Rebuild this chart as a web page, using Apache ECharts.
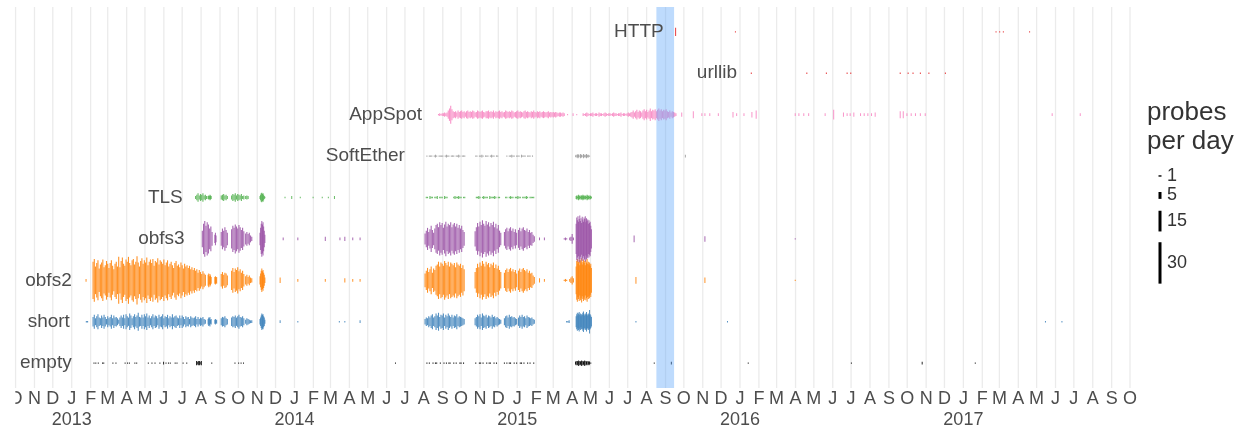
<!DOCTYPE html>
<html><head><meta charset="utf-8">
<script src="https://cdn.jsdelivr.net/npm/echarts@6/dist/echarts.min.js"></script>
<style>html,body{margin:0;padding:0;background:#fff}#c{width:1243px;height:432px}</style>
</head><body><div id="c"></div>
<script>
// ---------------- data ----------------
const categories = ['empty','short','obfs2','obfs3','TLS','SoftEther','AppSpot','urllib','HTTP'];
const labelDates = ['2013-01-01','2012-12-29','2013-01-01','2013-07-05','2013-07-02','2014-07-01','2014-07-29','2015-12-27','2015-08-29'];
const monthLetters = ['J','F','M','A','M','J','J','A','S','O','N','D'];
const yearLabels = ['2013','2014','2015','2016','2017'];
const axisMonths = ['2012-10','2017-10'];
const legendCounts = [1,5,15,30];
const highlightRange = ['2015-08-17','2015-09-15'];

// runs: [start date, step in days, daily probe counts]
const emptyRuns = [
['2013-02-06',1,'1'],['2013-02-09',1,'1'],['2013-02-13',1,'1'],['2013-02-20',1,'1'],['2013-02-22',1,'1'],
['2013-03-09',1,'1'],['2013-03-14',1,'1'],['2013-03-29',1,'1'],['2013-04-02',1,'1'],['2013-04-05',1,'1'],
['2013-04-14',1,'1'],['2013-04-17',1,'1'],['2013-05-06',1,'1'],['2013-05-12',1,'1'],['2013-05-17',1,'1'],
['2013-05-25',1,'1'],['2013-05-31',1,'2'],['2013-06-04',1,'1'],['2013-06-08',1,'1'],['2013-06-11',1,'1'],
['2013-06-19',1,'1'],['2013-06-22',1,'1'],['2013-07-02',1,'1'],['2013-07-08',1,'1'],
['2013-07-24',1,'3 0 2 3 0 3 2 0 3'],['2013-08-18',1,'1'],['2013-09-25',1,'1'],['2013-10-01',1,'1'],
['2013-10-05',1,'1'],['2013-10-09',1,'1'],['2014-06-15',1,'1'],
['2014-08-05',2,'1 0 1 0 0 1 0 1 1 0 0 1 0 0 1 0 1 0 1 1 0 0 1 0 1 0 0 1 1 0 1 0'],
['2014-10-24',2,'1 0 0 1 1 0 1 0 0 1 0 1 1 0 0 1 0 1 0'],
['2014-12-10',2,'1 0 1 0 1 1 0 0 1 0 1 0 0 1 1 0 1 0 0 1 0 1 0 0 1 0'],
['2015-04-06',1,'2 3 0 3 2 4 0 3 2 3 4 0 3 2 3 4 0 3 2 3 0 2 3 2 0 1'],
['2015-08-13',1,'1'],['2015-09-10',1,'2'],['2016-01-14',1,'1'],['2016-07-01',1,'1'],['2016-10-25',1,'2'],['2017-01-20',1,'1']
];
const shortRuns = [
['2013-01-24',2,'1 1'],
['2013-02-04',2,'7 10 5 8 11 6 5 9 6 10 7 4 8 5 7 10 5 9 6 7 5 3 6 9 6 10 5 11 8 6 12 9 5 8 11 7 9 13 7 6 10 6 11 8 12 6 9 5 8 11 6 9 8 5 10 7 8 11 5 8 7 10 5 8 6 11 6 8 9 6 5 9 5 9 7 4 8 6 7 4 8 6 5 6 8 4 7 4 6 5 7 4 3'],
['2013-08-12',1,'4 6 5 7 3 4'],['2013-08-23',1,'3 4 2 3'],
['2013-09-02',2,'5 7 6 8 5 4'],['2013-09-19',2,'6 8 7 9 6 8 10 7 6 8 5'],
['2013-10-12',2,'3 5 4 3 2 2'],['2013-11-05',1,'4 6 9 12 10 11 8 6 3'],
['2013-12-08',1,'2'],['2014-01-06',1,'1'],['2014-03-15',1,'1'],['2014-03-24',1,'1'],['2014-04-18',1,'2'],
['2014-08-02',2,'4 6 5 8 6 9 11 6 8 12 9 13 7 10 9 12 6 10 8 12 9 7 10 6 9 8 11 6 8 7 6 5 4'],
['2014-10-23',2,'5 7 10 8 11 6 12 9 8 10 6 9 8 6 10 7 8 5 7 5 4 3'],
['2014-12-10',2,'5 8 9 6 10 7 8 6 7 5 4'],
['2015-01-02',2,'6 9 7 10 7 8 5 9 7 6 5 6 4 3'],
['2015-03-22',2,'1 1 2'],
['2015-04-07',1,'8 11 13 9 12 14 10 12 8 11 10 13 15 11 9 12 10 14 11 9 12 10 17 11 9 7'],
['2015-07-14',1,'1'],['2015-12-11',1,'1'],['2017-05-15',1,'1'],['2017-06-11',1,'1']
];
const obfs2Runs = [
['2013-01-24',1,'2'],
['2013-02-04',2,'27 31 20 25 29 17 23 26 30 19 22 28 24 18 25 29 21 16 24 27 20 34 19 28 33 24 21 30 27 34 25 22 29 31 23 27 35 26 20 28 32 24 29 26 33 22 27 30 25 31 21 28 26 32 23 29 27 24 30 22 26 29 20 24 27 22 18 25 28 21 23 19 26 22 17 24 20 22 18 21 16 19 15 18 14 16 11 15 12 9 13 10 8'],
['2013-08-12',1,'8 10 6 9 7 5'],['2013-08-23',1,'5 6 4 5'],
['2013-09-02',2,'9 12 8 11 10 7'],['2013-09-19',2,'14 18 12 17 15 19 13 16 11 14 9'],
['2013-10-12',2,'6 8 5 7 4 3'],['2013-11-05',1,'6 10 14 17 13 15 11 8 4'],
['2013-12-08',1,'4'],['2014-01-06',1,'2'],['2014-02-20',1,'2'],['2014-03-24',1,'3'],['2014-04-06',1,'2'],['2014-04-18',1,'2'],
['2014-08-02',2,'10 14 18 12 16 20 11 17 15 21 23 27 20 26 24 21 28 25 22 27 20 26 24 22 25 19 26 23 21 24 18 22 16'],
['2014-10-23',2,'12 18 24 19 26 21 28 24 20 27 23 25 19 24 22 26 18 23 17 21 15 12'],
['2014-12-10',2,'11 15 17 12 16 18 13 16 12 15 10'],
['2015-01-02',2,'14 17 12 16 18 15 13 16 11 14 10 11 7 5'],
['2015-02-06',1,'3'],['2015-02-14',1,'2'],['2015-03-18',2,'1 2 1'],['2015-03-27',2,'2 4 6 3'],
['2015-04-07',1,'20 28 31 24 27 30 22 29 26 32 23 27 30 25 28 22 29 26 31 24 27 23 26 21 24 18'],
['2015-07-14',1,'5'],['2015-11-04',1,'4'],['2016-03-31',1,'1']
];
const obfs3Runs = [
['2013-08-02',2,'12 22 26 19 24 21 15 18 10'],['2013-08-23',1,'6 9 5'],
['2013-09-02',2,'10 15 12 17 13 9'],['2013-09-19',2,'14 19 16 21 18 15 20 17 13 16 11'],
['2013-10-12',2,'8 10 7 9 5 3'],['2013-11-05',1,'9 16 22 26 21 24 18 12 6'],
['2013-12-13',1,'2'],['2014-01-06',1,'2'],['2014-02-20',1,'3'],['2014-03-16',1,'2'],['2014-03-24',1,'3'],['2014-04-06',1,'2'],['2014-04-18',1,'2'],
['2014-08-02',2,'8 12 16 10 14 19 13 9 15 20 22 17 24 20 23 16 21 25 18 22 20 24 17 21 23 18 22 16 20 15 19 13 10'],
['2014-10-23',2,'11 17 23 18 25 20 27 22 19 26 21 24 18 23 20 25 17 22 15 20 12 9'],
['2014-12-10',2,'10 14 16 11 15 17 12 15 10 14 9'],
['2015-01-02',2,'13 16 11 15 17 13 12 15 10 13 9 10 6 4'],
['2015-02-06',1,'2'],['2015-02-14',1,'2'],['2015-03-18',2,'1 2 1'],['2015-03-27',2,'2 3 7 2'],
['2015-04-07',1,'22 31 27 33 25 29 34 26 30 23 32 28 25 31 29 33 24 30 26 28 22 27 23 25 19 14'],
['2015-07-11',1,'5'],['2015-11-04',1,'4'],['2016-03-31',1,'1']
];
const tlsRuns = [
['2013-07-22',2,'2 4 6 3 5 4 6 3 4 2'],['2013-08-12',1,'2 3 2 4 3 2'],
['2013-09-02',2,'3 4 5 3 4 2'],['2013-09-19',2,'3 5 4 6 3 5 4 3 5 2 3'],
['2013-10-12',2,'2 3 2'],['2013-11-05',1,'2 4 6 7 5 6 4 2 1'],
['2013-12-16',1,'1'],['2013-12-27',1,'2'],['2014-01-10',1,'1'],['2014-01-31',1,'1'],['2014-02-15',1,'1'],['2014-02-25',1,'1'],['2014-03-07',1,'2'],
['2014-08-04',2,'1 1 0 2 1 1 0 1 1 2 0 1 1 1 0 2 1 1'],
['2014-09-18',2,'1 2 1 1 2 1 1 0 1 1'],
['2014-10-25',2,'1 1 2 1 0 1 2 1 1 1 0 2 1 1 1 2 1 0 1 1'],
['2014-12-12',2,'1 1 0 1 2 1 1 0 1 1 2 1 1 0 1 1 1 2 1 0 1 1 1 1'],
['2015-04-07',1,'2 3 1 3 4 2 3 1 3 3 2 4 3 1 3 2 3 1 4 3 2 3 1 3 2 1']
];
const softEtherRuns = [
['2014-08-05',2,'1 0 1 1 1 0 1 2 1 0 1 1 1 1 0 1 2 1 1 0 1 1 1 0 1 1 2 1 0 1 1 1'],
['2014-10-24',2,'1 1 0 1 1 2 1 0 1 1 1 0 1 2 1 1 0 1 1'],
['2014-12-14',2,'1 0 1 1 2 1 1 0 1 1 1 0 2 1 1 1 0 1 1 1 0 1'],
['2015-04-06',1,'1 2 0 2 3 2 1 0 3 2 2 1 0 3 2 1 2 0 3 2 1 2 0 1'],
['2015-10-03',1,'2']
];
const appSpotRuns = [
['2014-08-24',2,'1 2 1 2 2 3 2 3 6 9 13 8 5 4 5 3 6 4 5 6 4 5 3 5 6 4 5 4 6 5 3 4 6 5 4 5 6 4 3 5 5 6 4 5 4 6 3 5 4 5 6 4 5 3 4 6 5 4 5 4 6 5 3 4 5 6 4 5 4 3 5 6 4 5 4 3 5 4 6 4 3 5 4 5 3 4 5 4 3 4 5 3 4 3 4 3 4 3 2 3 3 2 3 2'],
['2015-03-24',1,'1'],['2015-04-02',1,'2'],['2015-04-08',1,'1'],
['2015-04-18',2,'2 1 2 3 2 1 2 2 3 1 2 2 1 3 2 2 1 2 3 2 1 2 2 1 2 3 2 2 1 2 2 3 1 2 2 1 2 3 2 3'],
['2015-07-07',2,'4 6 3 5 7 4 6 5 3 6 8 5 7 4 6 9 5 7 6 8 5 7 9 6 8 5 7 6 8 5 4 6 3 5 4 3 2'],
['2015-09-27',1,'3'],['2015-10-16',1,'5'],['2015-10-30',1,'2'],['2015-11-04',1,'2'],['2015-11-12',1,'2'],
['2015-11-26',1,'2'],['2015-12-20',1,'4'],['2015-12-26',1,'2'],['2016-01-07',1,'2'],['2016-01-20',1,'4'],
['2016-01-27',1,'6'],['2016-03-31',1,'2'],['2016-04-06',1,'2'],['2016-04-14',1,'2'],['2016-04-22',1,'2'],
['2016-05-19',1,'2'],['2016-06-02',1,'7'],['2016-06-18',1,'3'],['2016-06-24',1,'2'],['2016-06-29',1,'2'],
['2016-07-05',1,'3'],['2016-07-16',1,'2'],['2016-07-22',1,'2'],['2016-07-28',1,'2'],['2016-08-03',1,'2'],
['2016-08-09',1,'3'],['2016-09-19',1,'5'],['2016-09-24',1,'5'],['2016-09-30',1,'2'],['2016-10-07',1,'2'],
['2016-10-14',1,'2'],['2016-10-22',1,'2'],['2016-10-30',1,'2'],['2017-05-26',1,'2'],['2017-07-11',1,'2']
];
const urllibRuns = [
['2016-01-19',1,'1'],['2016-04-19',1,'1'],['2016-05-21',1,'1'],['2016-06-24',1,'1'],['2016-06-30',1,'1'],
['2016-09-19',1,'1'],['2016-10-02',1,'1'],['2016-10-10',1,'1'],['2016-10-22',1,'1'],['2016-11-05',1,'1'],['2016-12-02',1,'1']
];
const httpRuns = [
['2015-09-17',1,'6'],['2015-12-24',1,'1'],['2017-02-23',1,'1'],['2017-03-01',1,'1'],['2017-03-07',1,'1'],['2017-04-19',1,'1']
];
const allRuns = [emptyRuns, shortRuns, obfs2Runs, obfs3Runs, tlsRuns, softEtherRuns, appSpotRuns, urllibRuns, httpRuns];

// ---------------- style ----------------
const colors = ['#000000','#377eb8','#ff7f00','#984ea3','#4daf4a','#999999','#f781bf','#e41a1c','#e41a1c'];
const opacities = [0.85,0.85,0.85,0.85,0.85,0.85,0.85,0.85,0.85];
const FONT = '"Liberation Sans", Arial, Helvetica, sans-serif';
const TXT = '#4d4d4d';
const DAY = 86400000;
const Y_MIN = -0.6, Y_MAX = 8.6;
const PROBES_PER_ROW = 30;
const legendRowPos = [4.52, 4.05, 3.43, 2.42];

const toT = s => { const p = s.split('-').map(Number); return Date.UTC(p[0], p[1]-1, p[2] || 1); };
function expand(runs, row) {
  const out = [];
  runs.forEach(([s, step, vals]) => {
    vals.trim().split(/\s+/).forEach((v, i) => {
      const c = +v;
      if (c > 0) out.push([toT(s) + i*step*DAY, row, c, step]);
    });
  });
  return out;
}
const monthTicks = [];
{
  const a = axisMonths[0].split('-').map(Number), b = axisMonths[1].split('-').map(Number);
  let y = a[0], m = a[1]-1;
  while (y < b[0] || (y === b[0] && m <= b[1]-1)) {
    monthTicks.push([Date.UTC(y, m, 1), m, y]);
    m++; if (m > 11) { m = 0; y++; }
  }
}
const X_MIN = toT('2012-09-05') + DAY*0.5;
const X_MAX = toT('2017-10-17') + DAY*0.4;

const chart = echarts.init(document.getElementById('c'), null, {renderer: 'canvas'});

function barItem(color, alpha) {
  return function (params, api) {
    const x = api.value(0), row = api.value(1), c = api.value(2), step = api.value(3);
    const xc = x + step*DAY/2;
    const h = c / PROBES_PER_ROW / 2;
    const top = api.coord([xc, row + h]);
    const bot = api.coord([xc, row - h]);
    const w = Math.max(1, api.size([step*DAY, 0])[0] * 0.9);
    return {type: 'rect', shape: {x: top[0]-w/2, y: top[1], width: w, height: Math.max(1, bot[1]-top[1])},
            style: {fill: color, opacity: alpha}};
  };
}
function gridItem(params, api) {
  const t = api.value(0), m = api.value(1), yr = api.value(2);
  const top = api.coord([t, Y_MAX]), bot = api.coord([t, Y_MIN]);
  const ch = [
    {type: 'line', shape: {x1: top[0], y1: top[1], x2: bot[0], y2: bot[1]}, style: {stroke: '#ebebeb', lineWidth: 1.3}},
    {type: 'text', style: {text: monthLetters[m], x: bot[0], y: bot[1]+11.5, align: 'center', verticalAlign: 'middle', font: '18px ' + FONT, fill: TXT}}
  ];
  if (m === 0) ch.push({type: 'text', style: {text: yearLabels[yr-2013], x: bot[0], y: bot[1]+32.5, align: 'center', verticalAlign: 'middle', font: '18px ' + FONT, fill: TXT}});
  if (params.dataIndex === 0) {
    const left = api.coord([X_MIN, Y_MIN]);
    ch.push({type: 'rect', shape: {x: left[0]-5, y: bot[1]+2, width: bot[0]-left[0]+5-0.2, height: 20}, style: {fill: '#fff'}});
  }
  return {type: 'group', children: ch};
}
function bandItem(params, api) {
  const a = api.coord([api.value(0), Y_MAX]), b = api.coord([api.value(1), Y_MIN]);
  return {type: 'rect', shape: {x: a[0], y: a[1], width: b[0]-a[0], height: b[1]-a[1]}, style: {fill: 'rgba(100,170,250,0.42)'}};
}
function labelItem(params, api) {
  const p = api.coord([api.value(0), api.value(1)]);
  return {type: 'text', style: {text: categories[params.dataIndex], x: p[0], y: p[1], align: 'right', verticalAlign: 'middle', font: '19px ' + FONT, fill: TXT}};
}
function legendItem(params, api) {
  const row = api.value(1), c = api.value(2), h = c / PROBES_PER_ROW / 2;
  const top = api.coord([0.5, row + h]), bot = api.coord([0.5, row - h]);
  return {type: 'group', children: [
    {type: 'rect', shape: {x: top[0]-1.5, y: top[1], width: 3, height: Math.max(1.2, bot[1]-top[1])}, style: {fill: '#000'}},
    {type: 'text', style: {text: String(c), x: top[0]+7, y: (top[1]+bot[1])/2, align: 'left', verticalAlign: 'middle', font: '18px ' + FONT, fill: '#333'}}
  ]};
}

const series = [];
series.push({type: 'custom', xAxisIndex: 0, yAxisIndex: 0, z: 1, silent: true, clip: false, data: monthTicks, renderItem: gridItem, encode: {x: 0}});
allRuns.forEach((runs, i) => {
  series.push({type: 'custom', xAxisIndex: 0, yAxisIndex: 0, z: 3, silent: true, clip: false,
    data: expand(runs, i), renderItem: barItem(colors[i], opacities[i]), encode: {x: 0, y: 1}});
});
series.push({type: 'custom', xAxisIndex: 0, yAxisIndex: 0, z: 4, silent: true, clip: false,
  data: [[toT(highlightRange[0]), toT(highlightRange[1])]], renderItem: bandItem, encode: {x: [0, 1]}});
series.push({type: 'custom', xAxisIndex: 0, yAxisIndex: 0, z: 5, silent: true, clip: false,
  data: categories.map((c, i) => [toT(labelDates[i]), i]), renderItem: labelItem, encode: {x: 0, y: 1}});
series.push({type: 'custom', xAxisIndex: 1, yAxisIndex: 1, z: 5, silent: true, clip: false,
  data: legendCounts.map((c, i) => [0.5, legendRowPos[i], c]), renderItem: legendItem, encode: {x: 0, y: 1}});

chart.setOption({
  animation: false,
  backgroundColor: '#fff',
  grid: [
    {left: 0, width: 1140, top: 7, bottom: 44, containLabel: false},
    {left: 1150, width: 20, top: 7, bottom: 44, containLabel: false}
  ],
  xAxis: [
    {type: 'value', gridIndex: 0, min: X_MIN, max: X_MAX, show: false, splitLine: {show: false}},
    {type: 'value', gridIndex: 1, min: 0, max: 1, show: false, splitLine: {show: false}}
  ],
  yAxis: [
    {type: 'value', gridIndex: 0, min: Y_MIN, max: Y_MAX, show: false, splitLine: {show: false}},
    {type: 'value', gridIndex: 1, min: Y_MIN, max: Y_MAX, show: false, splitLine: {show: false}}
  ],
  graphic: [
    {type: 'text', left: 1147, top: 98, z: 10, style: {text: 'probes\nper day', font: '26px ' + FONT, fill: '#333', lineHeight: 29}}
  ],
  series: series
});
</script>
</body></html>
